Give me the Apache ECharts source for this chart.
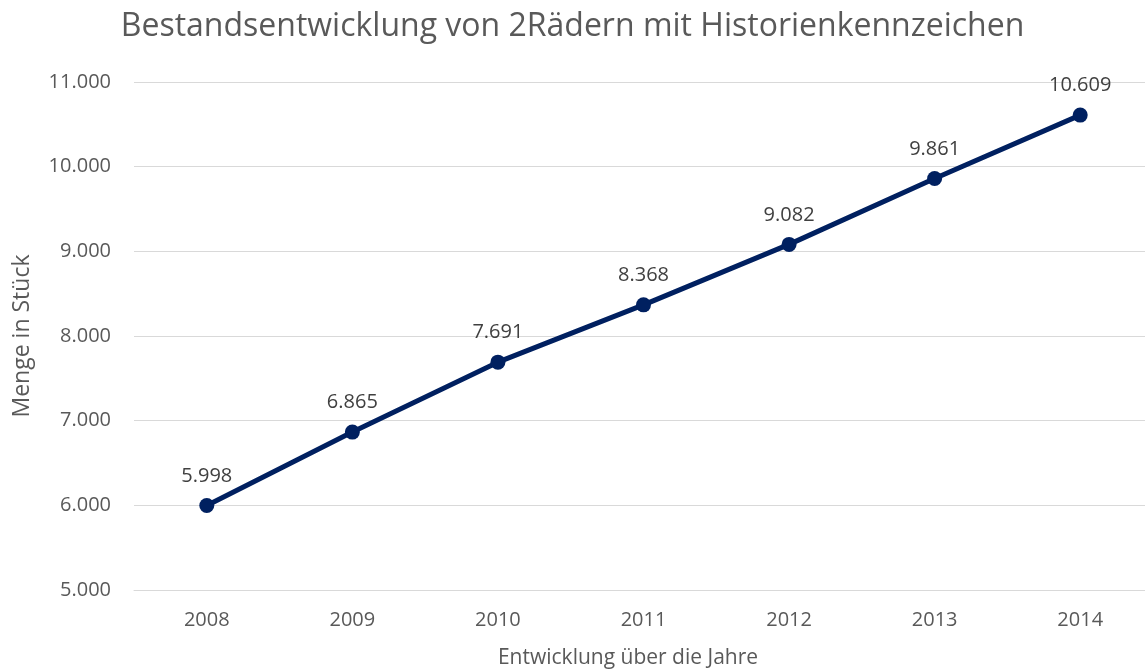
<!DOCTYPE html>
<html>
<head>
<meta charset="utf-8">
<script src="https://cdn.jsdelivr.net/npm/echarts@6/dist/echarts.min.js"></script>
<style>
  html, body { margin: 0; padding: 0; background: #fff; }
  #main { width: 1145px; height: 672px; }
</style>
</head>
<body>
<div id="main"></div>
<script>
var myChart = echarts.init(document.getElementById('main'));

// 数据
var years = ['2008', '2009', '2010', '2011', '2012', '2013', '2014'];
var bestand = [5998, 6865, 7691, 8368, 9082, 9861, 10609];

function fmt(v) {
  return String(v).replace(/\B(?=(\d{3})+(?!\d))/g, '.');
}

var option = {
  textStyle: { fontFamily: 'Open Sans' },
  title: {
    text: 'Bestandsentwicklung von 2Rädern mit Historienkennzeichen',
    left: 'center',
    top: 6,
    textStyle: {
      fontSize: 32,
      fontWeight: 'normal',
      color: '#595959',
      fontFamily: 'Open Sans'
    }
  },
  grid: {
    left: 134,
    top: 82,
    width: 1019,
    height: 508,
    outerBoundsMode: 'none'
  },
  xAxis: {
    type: 'category',
    data: years,
    name: 'Entwicklung über die Jahre',
    nameLocation: 'middle',
    nameGap: 58,
    nameTextStyle: { fontSize: 21, color: '#595959', padding: [0, 0, 0, -31] },
    axisLine: { lineStyle: { color: '#d9d9d9', width: 1 } },
    axisTick: { show: false },
    axisLabel: { fontSize: 20, color: '#595959', margin: 20 }
  },
  yAxis: {
    type: 'value',
    min: 5000,
    max: 11000,
    interval: 1000,
    name: 'Menge in Stück',
    nameLocation: 'middle',
    nameGap: 100,
    nameTextStyle: { fontSize: 23, color: '#595959' },
    axisLine: { show: false },
    axisTick: { show: false },
    splitLine: { lineStyle: { color: '#d9d9d9', width: 1 } },
    axisLabel: {
      fontSize: 20,
      color: '#595959',
      margin: 23,
      formatter: function (v) { return fmt(v); }
    }
  },
  series: [{
    name: 'Bestand',
    type: 'line',
    data: bestand,
    symbol: 'circle',
    symbolSize: 15,
    lineStyle: { color: '#002060', width: 5 },
    itemStyle: { color: '#002060' },
    label: {
      show: true,
      position: 'top',
      distance: 12,
      fontSize: 20,
      color: '#404040',
      formatter: function (p) { return fmt(p.value); }
    },
    animation: false
  }]
};
myChart.setOption(option);
</script>
</body>
</html>
